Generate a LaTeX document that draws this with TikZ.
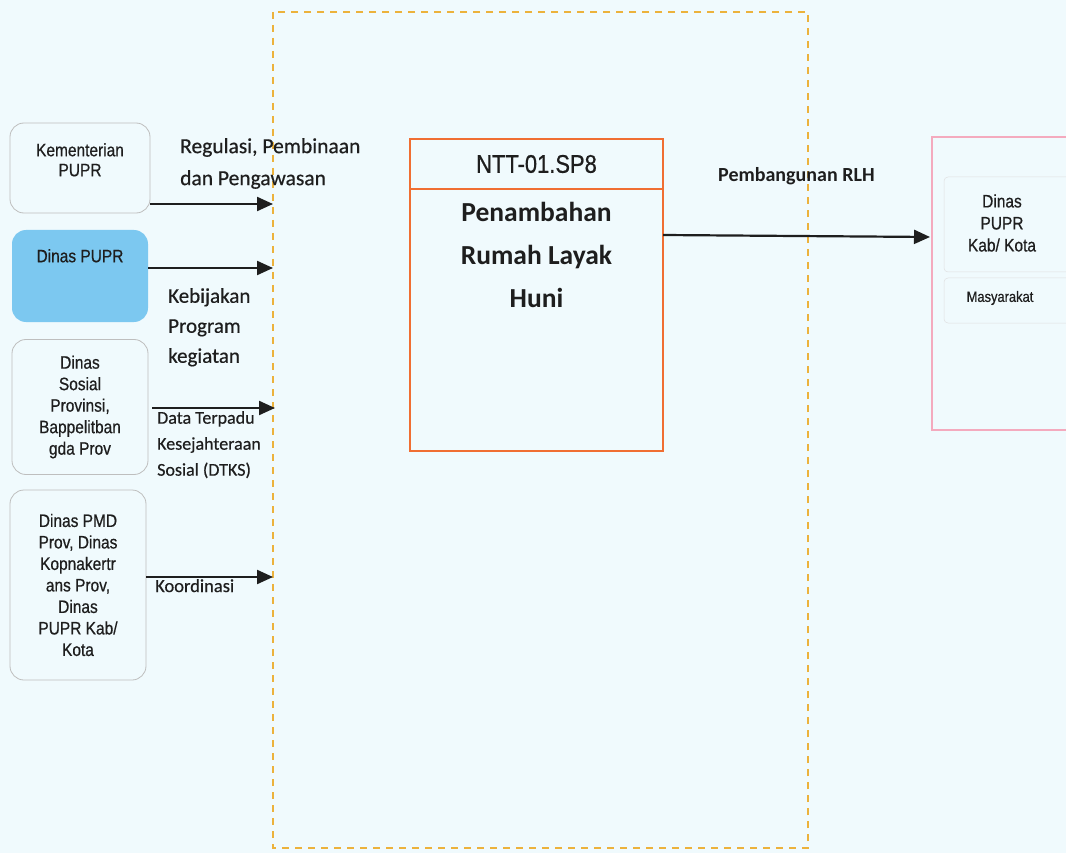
\documentclass[tikz,border=0pt]{standalone}
\usepackage{fontspec}
\setmainfont{Carlito}
\newfontfamily\narrow[FakeStretch=0.86,FakeBold=0.6]{Liberation Sans}
\newfontfamily\lbl[FakeBold=0.5]{Carlito}
\usetikzlibrary{arrows.meta,positioning}
\definecolor{bgc}{RGB}{240,250,253}
\definecolor{gold}{RGB}{236,178,60}
\definecolor{orng}{RGB}{240,110,50}
\definecolor{pinkb}{RGB}{244,170,190}
\definecolor{bluef}{RGB}{124,200,240}
\definecolor{greyb}{RGB}{190,190,190}
\definecolor{txt}{RGB}{30,30,30}
\tikzset{
  lbox/.style={draw=greyb, line width=0.8pt, rounded corners=14pt, inner sep=0pt, align=center, font=\narrow\fontsize{18}{21.5}\selectfont, text=txt},
  arr/.style={line width=2.2pt, draw=txt, -{Triangle[length=16pt,width=14pt]}},
  lab/.style={anchor=north west, align=left, inner sep=0pt, text=txt},
  ibox/.style={draw=greyb!50, line width=0.5pt, rounded corners=4pt, inner sep=0pt}
}
\begin{document}
\begin{tikzpicture}[x=1pt,y=-1pt]
\fill[bgc] (0,0) rectangle (1066,853);
\useasboundingbox (0,0) rectangle (1066,853);
% dashed frame
\draw[gold, line width=1.3pt, dash pattern=on 7pt off 6pt] (273,12) rectangle (808,848);
% left boxes
\node[lbox, minimum width=140pt, minimum height=90pt] (kem) at (80,168) {};
\node[anchor=north, align=center, font=\narrow\fontsize{18}{20}\selectfont, text=txt, inner sep=0pt] (kemt) at (80,143) {Kementerian\\PUPR};
\node[lbox, draw=none, fill=bluef, minimum width=136pt, minimum height=92pt] (din) at (80,276) {};
\node[anchor=north, font=\narrow\fontsize{18}{20}\selectfont, text=txt, inner sep=0pt] (dint) at (80,249) {Dinas PUPR};
\node[lbox, minimum width=136pt, minimum height=135pt] (sos) at (80,407) {Dinas\\Sosial\\Provinsi,\\Bappelitban\\gda Prov};
\node[lbox, minimum width=136pt, minimum height=190pt] (pmd) at (78,585) {Dinas PMD\\Prov, Dinas\\Kopnakertr\\ans Prov,\\Dinas\\PUPR Kab/\\Kota};
% arrow end points on frame
\coordinate (e1) at (273,204);
\coordinate (e2) at (273,268);
\coordinate (e3) at (275,408);
\coordinate (e4) at (273,577);
\draw[arr] (kem.east |- e1) -- (e1);
\draw[arr] (din.east |- e2) -- (e2);
\draw[arr] ([xshift=4pt]sos.east |- e3) -- (e3);
\draw[arr] (pmd.east |- e4) -- (e4);
% labels
\node[lab, font=\lbl\fontsize{21.5}{32}\selectfont] (l1) at (180,138) {Regulasi, Pembinaan\\dan Pengawasan};
\node[lab, font=\lbl\fontsize{21}{30}\selectfont] (l2) at (168,288) {Kebijakan\\Program\\kegiatan};
\node[lab, font=\lbl\fontsize{18}{26}\selectfont] (l3) at (157,411) {Data Terpadu\\Kesejahteraan\\Sosial (DTKS)};
\node[lab, font=\lbl\fontsize{18.5}{20}\selectfont] (l4) at (155,579) {Koordinasi};
% central box
\draw[orng, line width=1.6pt] (410,139) rectangle (663,451);
\draw[orng, line width=1.6pt] (410,189) -- (663,189);
\node[font=\narrow\fontsize{25.5}{28}\selectfont, text=txt, inner sep=0pt] (ntt) at (536.5,164) {NTT-01.SP8};
\node[anchor=north, align=center, font=\bfseries\fontsize{27.5}{43}\selectfont, text=txt, inner sep=0pt] (pen) at (536.5,202) {Penambahan\\Rumah Layak\\Huni};
\coordinate (cb) at (663,235);
% right box
\draw[pinkb, line width=1.4pt] (1070,137) -- (932,137) -- (932,430) -- (1070,430);
\draw[ibox] (1070,177) -- (944,177) -- (944,272) -- (1070,272);
\draw[ibox] (1070,278) -- (944,278) -- (944,323) -- (1070,323);
\node[align=center, font=\narrow\fontsize{18}{22}\selectfont, text=txt, inner sep=0pt] (dk) at (1002,223) {Dinas\\PUPR\\Kab/ Kota};
\node[font=\narrow\fontsize{15}{18}\selectfont, text=txt, inner sep=0pt] (mas) at (1000,298) {Masyarakat};
\coordinate (e5) at (930,237);
\draw[arr] (cb) -- (e5);
\node[lab, font=\bfseries\fontsize{20}{22}\selectfont] (l5) at (718,167) {Pembangunan RLH};
\end{tikzpicture}
\end{document}
